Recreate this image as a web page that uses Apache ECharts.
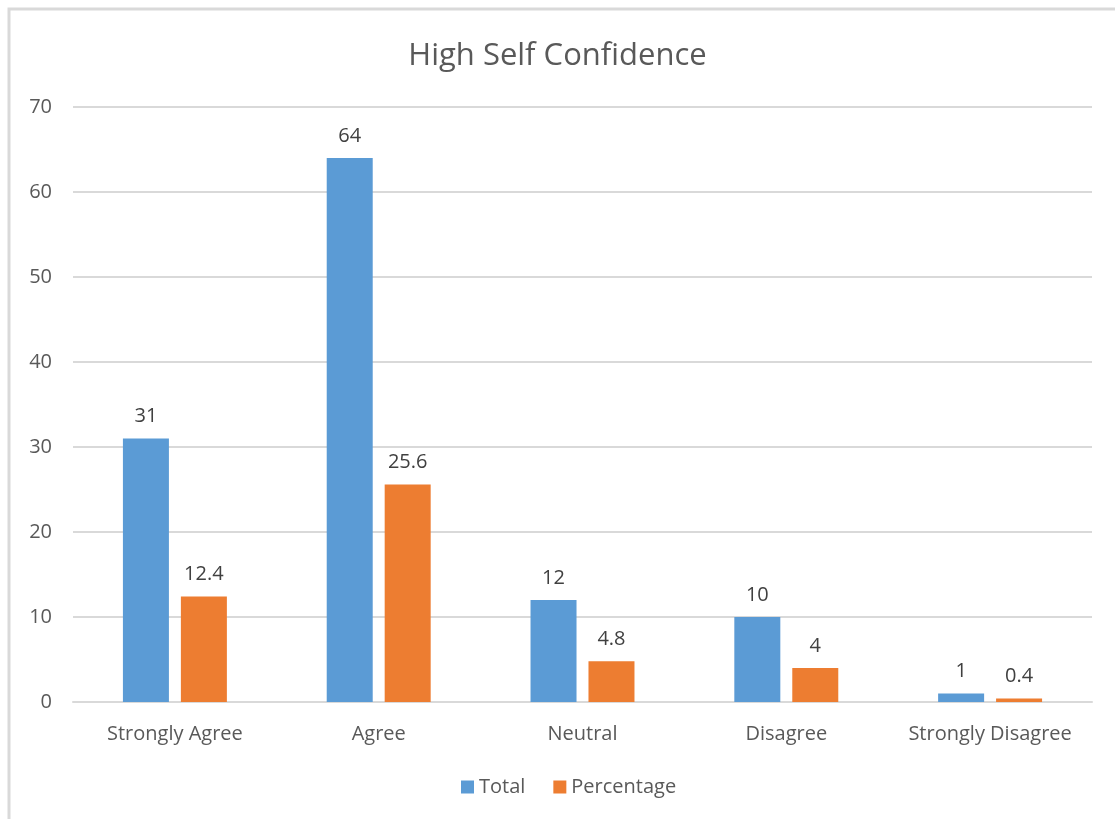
<!DOCTYPE html>
<html>
<head>
<meta charset="utf-8">
<script src="https://cdn.jsdelivr.net/npm/echarts@6/dist/echarts.min.js"></script>
<style>
  html, body { margin: 0; padding: 0; background: #fff; }
  #chart { width: 1115px; height: 819px; }
</style>
</head>
<body>
<div id="chart"></div>
<script>
// Survey responses for "High Self Confidence"
const categories = ['Strongly Agree', 'Agree', 'Neutral', 'Disagree', 'Strongly Disagree'];
const totalValues = [31, 64, 12, 10, 1];
const percentageValues = [12.4, 25.6, 4.8, 4, 0.4];
const yTicks = [0, 10, 20, 30, 40, 50, 60, 70];

const FONT = 'Open Sans, Lato, sans-serif';
const TEXT = '#595959';

const chart = echarts.init(document.getElementById('chart'), null, { renderer: 'canvas' });

const labelStyle = {
  show: true,
  position: 'top',
  distance: 12,
  color: '#404040',
  fontSize: 20,
  fontFamily: FONT
};

chart.setOption({
  backgroundColor: '#fff',
  animation: false,
  graphic: [{
    type: 'rect',
    shape: { x: 9, y: 9, width: 1130, height: 830 },
    style: { fill: 'none', stroke: '#d9d9d9', lineWidth: 3 },
    silent: true
  }],
  title: {
    text: 'High Self Confidence',
    left: 'center',
    top: 36,
    textStyle: { color: TEXT, fontSize: 31, fontWeight: 'normal', fontFamily: FONT }
  },
  legend: {
    bottom: 17,
    left: 456,
    itemWidth: 13,
    itemHeight: 13,
    itemGap: 28,
    icon: 'rect',
    textStyle: { color: TEXT, fontSize: 20, fontFamily: FONT },
    data: ['Total', 'Percentage']
  },
  grid: { left: 73, right: 23, top: 107, bottom: 117, containLabel: false },
  xAxis: {
    type: 'category',
    data: categories,
    axisLine: { lineStyle: { color: '#d9d9d9', width: 2 } },
    axisTick: { show: false },
    axisLabel: { color: TEXT, fontSize: 20, fontFamily: FONT, margin: 22, interval: 0 }
  },
  yAxis: {
    type: 'value',
    min: yTicks[0],
    max: yTicks[yTicks.length - 1],
    interval: 10,
    axisLine: { show: false },
    axisTick: { show: false },
    axisLabel: { color: TEXT, fontSize: 20, fontFamily: FONT, margin: 21 },
    splitLine: { lineStyle: { color: '#d9d9d9', width: 2 } }
  },
  series: [
    {
      name: 'Total',
      type: 'bar',
      data: totalValues,
      barWidth: 46,
      barGap: '26%',
      itemStyle: { color: '#5b9bd5' },
      label: labelStyle
    },
    {
      name: 'Percentage',
      type: 'bar',
      data: percentageValues,
      barWidth: 46,
      itemStyle: { color: '#ed7d31' },
      label: labelStyle
    }
  ]
});
</script>
</body>
</html>
